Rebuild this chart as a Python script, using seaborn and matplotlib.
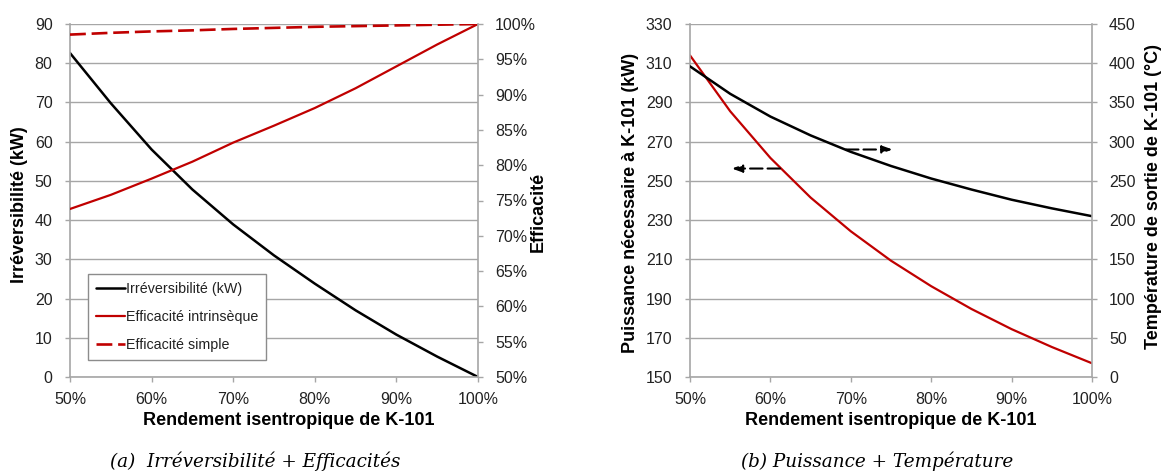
#!/usr/bin/python3
# -*- coding: utf-8 -*-

# --------------------------------------------------------------------
# Compresseur K-101 : irréversibilité, efficacités, puissance, température
# --------------------------------------------------------------------
import numpy as np
import pandas as pd

import seaborn as sns
import matplotlib.pyplot as plt
from matplotlib.ticker import FuncFormatter

# --------------------------------------------------------------------
# données
# --------------------------------------------------------------------
rendement = [50, 55, 60, 65, 70, 75, 80, 85, 90, 95, 100]  # %

# (a) irréversibilité (kW) + efficacités (%)
irreversibilite = [82.6, 69.8, 58.0, 47.8, 38.9, 31.0, 23.8, 17.0, 10.8, 5.2, 0.0]
eff_intrinseque = [73.8, 75.8, 78.1, 80.5, 83.2, 85.6, 88.1, 90.9, 94.0, 97.1, 100.0]
eff_simple = [98.5, 98.75, 98.95, 99.1, 99.3, 99.45, 99.6, 99.7, 99.8, 99.9, 100.0]

# (b) puissance (kW) + température de sortie (°C)
puissance = [314.0, 285.5, 261.7, 241.5, 224.3, 209.3, 196.3, 184.7, 174.4, 165.3, 157.0]
temperature = [396, 361, 332, 308, 287, 269, 253, 239, 226, 215, 205]

# flèches (x début, x fin, y sur l'axe puissance)
fleche_puissance = (61.2, 55.2, 256.3)
fleche_temperature = (69.4, 75.2, 266.0)

df_a = pd.DataFrame({'rendement': rendement, 'irr': irreversibilite,
                     'intr': eff_intrinseque, 'simple': eff_simple})
df_b = pd.DataFrame({'rendement': rendement, 'puissance': puissance,
                     'temperature': temperature})

# --------------------------------------------------------------------
# style
# --------------------------------------------------------------------
sns.set_theme(style='white')
plt.rcParams['font.family'] = ['Liberation Sans', 'DejaVu Sans']

ROUGE = '#C00000'
GRIS = '#A6A6A6'
TXT = '#222222'
FS = 11.5      # graduations
FS_LAB = 13    # titres d'axes

pct = FuncFormatter(lambda v, p: '{:.0f}%'.format(v))


def style_axes(ax_l, ax_r, xlab_x):
    for sp in ['top', 'right']:
        ax_l.spines[sp].set_visible(False)
    for sp in ['top', 'left', 'bottom']:
        ax_r.spines[sp].set_visible(False)
    for sp in [ax_l.spines['left'], ax_l.spines['bottom'], ax_r.spines['right']]:
        sp.set_color(GRIS)
        sp.set_linewidth(1.2)
    ax_l.yaxis.grid(True, color=GRIS, lw=1.0)
    ax_l.xaxis.grid(False)
    ax_r.grid(False)
    ax_l.tick_params(axis='y', length=3.6, width=1, color=GRIS, pad=9,
                     labelsize=FS, labelcolor=TXT, left=True)
    ax_l.tick_params(axis='x', length=3.6, width=1, color=GRIS, pad=7,
                     labelsize=FS, labelcolor=TXT, bottom=True)
    ax_r.tick_params(axis='y', length=3.6, width=1, color=GRIS, pad=8.6,
                     labelsize=FS, labelcolor=TXT, right=True)
    ax_l.set_xlim(50, 100)
    ax_l.set_xticks(np.arange(50, 101, 10))
    ax_l.xaxis.set_major_formatter(pct)
    ax_l.set_xlabel('Rendement isentropique de K-101', fontweight='bold',
                    fontsize=FS_LAB, color='black')
    ax_l.xaxis.set_label_coords(xlab_x, -0.098)


fig = plt.figure(figsize=(11.64, 4.74), dpi=100)

# --------------------------------------------------------------------
# (a) Irréversibilité + Efficacités
# --------------------------------------------------------------------
ax1 = fig.add_axes([70 / 1164, 97 / 474, 408 / 1164, 353 / 474])
ax2 = ax1.twinx()

sns.lineplot(data=df_a, x='rendement', y='irr', ax=ax1, color='black', lw=1.8,
             label='Irréversibilité (kW)', legend=False)
sns.lineplot(data=df_a, x='rendement', y='intr', ax=ax2, color=ROUGE, lw=1.6,
             label='Efficacité intrinsèque', legend=False)
sns.lineplot(data=df_a, x='rendement', y='simple', ax=ax2, color=ROUGE, lw=1.9,
             dashes=(6, 2.2), label='Efficacité simple', legend=False)

style_axes(ax1, ax2, 0.535)
ax1.set_ylim(0, 90)
ax1.set_yticks(np.arange(0, 91, 10))
ax2.set_ylim(50, 100)
ax2.set_yticks(np.arange(50, 101, 5))
ax2.yaxis.set_major_formatter(pct)

ax1.set_ylabel('Irréversibilité (kW)', fontweight='bold', fontsize=FS_LAB, color='black')
ax1.yaxis.set_label_coords(-0.104, 0.489)
ax2.set_ylabel('Efficacité', fontweight='bold', fontsize=FS_LAB, color='black')
ax2.yaxis.set_label_coords(1.128, 0.467)

h1, l1 = ax1.get_legend_handles_labels()
h2, l2 = ax2.get_legend_handles_labels()
leg = ax2.legend(h1 + h2, l1 + l2, loc='lower left', bbox_to_anchor=(0.045, 0.048),
                 borderaxespad=0, fontsize=10.3, frameon=True, fancybox=False,
                 edgecolor='#8C8C8C', framealpha=1, handlelength=2.0,
                 handletextpad=0.05, labelspacing=1.0, borderpad=0.55)
leg.get_frame().set_linewidth(1.0)
for t in leg.get_texts():
    t.set_color(TXT)

# --------------------------------------------------------------------
# (b) Puissance + Température
# --------------------------------------------------------------------
ax3 = fig.add_axes([690 / 1164, 97 / 474, 402 / 1164, 353 / 474])
ax4 = ax3.twinx()

sns.lineplot(data=df_b, x='rendement', y='puissance', ax=ax3, color=ROUGE, lw=1.6)
sns.lineplot(data=df_b, x='rendement', y='temperature', ax=ax4, color='black', lw=1.8)

style_axes(ax3, ax4, 0.5)
ax3.set_ylim(150, 330)
ax3.set_yticks(np.arange(150, 331, 20))
ax4.set_ylim(0, 450)
ax4.set_yticks(np.arange(0, 451, 50))

ax3.set_ylabel('Puissance nécessaire à K-101 (kW)', fontweight='bold', fontsize=FS_LAB,
               color='black')
ax3.yaxis.set_label_coords(-0.128, 0.493)
ax4.set_ylabel('Température de sortie de K-101 (°C)', fontweight='bold', fontsize=FS_LAB,
               color='black')
ax4.yaxis.set_label_coords(1.131, 0.51)

# flèches pointillées (quelle courbe va avec quel axe)
for x0, x1, y in [fleche_puissance, fleche_temperature]:
    ax3.annotate('', xy=(x1, y), xytext=(x0, y),
                 arrowprops=dict(arrowstyle='-|>,head_length=0.5,head_width=0.18',
                                 linestyle=(0, (6, 2.4)), lw=1.5, color='black',
                                 shrinkA=0, shrinkB=0))

# --------------------------------------------------------------------
# légendes des sous-figures
# --------------------------------------------------------------------
fig.text(255 / 1164, 1 - 461 / 474, '(a)  Irréversibilité + Efficacités',
         family='DejaVu Serif', style='italic', fontsize=13.2, ha='center',
         va='center', color='black')
fig.text(877 / 1164, 1 - 461 / 474, '(b) Puissance + Température',
         family='DejaVu Serif', style='italic', fontsize=13.2, ha='center',
         va='center', color='black')

plt.savefig('out.png', dpi=100)
